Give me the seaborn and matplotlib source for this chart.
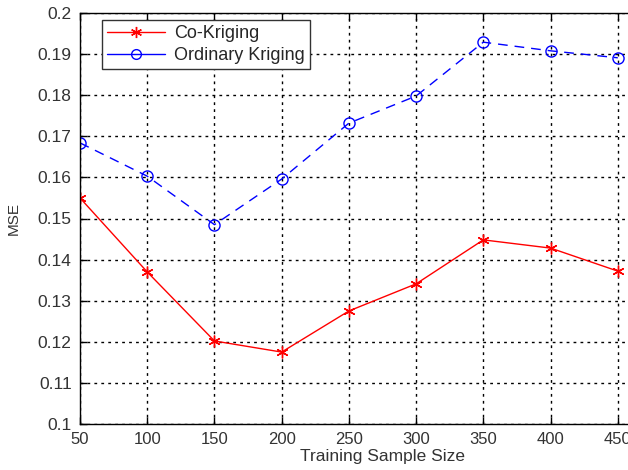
import matplotlib
matplotlib.use("Agg")
import matplotlib.pyplot as plt
import seaborn as sns
import pandas as pd
from matplotlib.ticker import FuncFormatter

sample_size = [50, 100, 150, 200, 250, 300, 350, 400, 450]
co_kriging = [0.1550, 0.1370, 0.1202, 0.1175, 0.1275, 0.1341, 0.1448, 0.1428, 0.1372]
ordinary_kriging = [0.1684, 0.1603, 0.1485, 0.1596, 0.1732, 0.1798, 0.1929, 0.1908, 0.1891]
x_ticks = [50, 100, 150, 200, 250, 300, 350, 400, 450]
y_ticks = [0.1, 0.11, 0.12, 0.13, 0.14, 0.15, 0.16, 0.17, 0.18, 0.19, 0.2]

sns.set_style("white")
plt.rcParams['font.family'] = ['Liberation Sans', 'DejaVu Sans']

fig = plt.figure(figsize=(6.28, 4.70), dpi=100)
ax = fig.add_axes([80/628, 46/470, 605/628, 411/470])

df = pd.DataFrame({"size": sample_size, "co": co_kriging, "ok": ordinary_kriging})

sns.lineplot(data=df, x="size", y="co", ax=ax, color="red", marker=(6, 2, 0),
             markersize=8.5, markeredgewidth=1.0, markeredgecolor="red",
             linewidth=1.0, label="Co-Kriging")
sns.lineplot(data=df, x="size", y="ok", ax=ax, color="blue", marker="o",
             markersize=8, markerfacecolor="none", markeredgecolor="blue",
             markeredgewidth=1.0, linewidth=1.0, dashes=False, label="Ordinary Kriging")
ax.lines[1].set_linestyle((0, (7, 5)))

ax.set_xlim(50, 500)
ax.set_ylim(0.1, 0.2)
ax.set_xticks(x_ticks)
ax.set_yticks(y_ticks)
ax.yaxis.set_major_formatter(FuncFormatter(lambda v, p: f"{v:g}"))
ax.grid(True, color="black", linestyle=(0, (2, 3)), linewidth=1.0)
ax.tick_params(axis="x", direction="in", length=5, width=1, colors="black",
               labelsize=12, labelcolor="#333333", top=True, bottom=True, pad=6)
ax.tick_params(axis="y", direction="in", length=5, width=1, colors="black",
               labelsize=12.5, labelcolor="#333333", left=True, right=True, pad=6)
for s in ax.spines.values():
    s.set_color("black")
    s.set_linewidth(1.0)

ax.set_xlabel("Training Sample Size", fontsize=12.5, color="#333333", labelpad=1)
ax.set_ylabel("MSE", fontsize=11, color="#333333", labelpad=12)

leg = ax.legend(loc="upper left", bbox_to_anchor=(22/605, 1 - 7/411), fontsize=13,
                frameon=True, fancybox=False, edgecolor="#333333",
                handlelength=3.2, handletextpad=0.5, borderpad=0.3,
                labelspacing=0.25, borderaxespad=0)
leg.get_frame().set_linewidth(1.0)
leg.get_frame().set_alpha(1)
ax.get_legend().legend_handles[1].set_linestyle("-")
ax.get_legend().legend_handles[0].set_markersize(8)
ax.get_legend().legend_handles[1].set_markersize(7)

fig.savefig("out.png", dpi=100)
